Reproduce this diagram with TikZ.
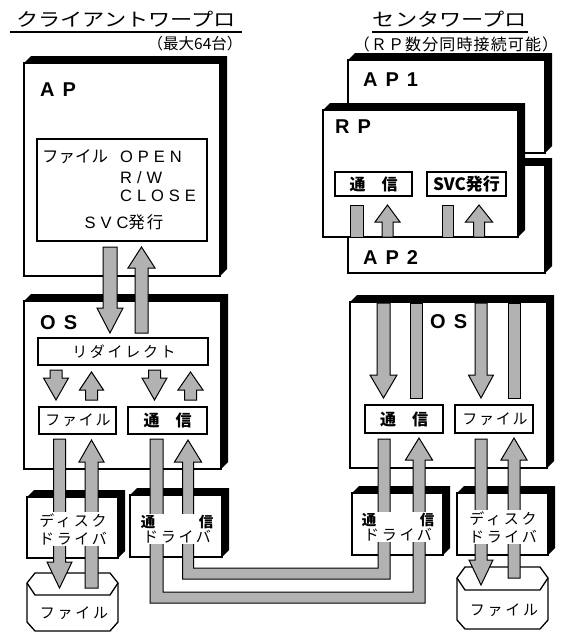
\documentclass[tikz,border=0pt]{standalone}
\usepackage{fontspec}
\setmainfont{Liberation Sans}
\newfontfamily\jp{Noto Sans CJK JP}
\newfontfamily\jpt[FakeStretch=1.2]{Noto Sans CJK JP}
\newfontfamily\jpa[LetterSpace=12]{Noto Sans CJK JP}
\newfontfamily\jpb[LetterSpace=18]{Noto Sans CJK JP}
\newfontfamily\jpc[LetterSpace=7]{Noto Sans CJK JP}
\newfontfamily\lat[LetterSpace=30]{Liberation Sans}
\newfontfamily\latb[LetterSpace=40]{Liberation Sans}
\newcommand{\shbox}[5][7]{%
  \fill (#2,#3) -- ++(#1,-#1) -- (#4+#1,#3-#1) -- (#4+#1,#5-#1) -- (#4,#5) -- (#4,#3) -- cycle;
  \filldraw[fill=white, line width=1.3pt] (#2,#3) rectangle (#4,#5);}
\newcommand{\arr}[6]{%
  \filldraw[stip] (#1-#2,#4) -- (#1+#2,#4) -- (#1+#2,#5) -- (#1+#3,#5) -- (#1,#6) -- (#1-#3,#5) -- (#1-#2,#5) -- cycle;}
\newcommand{\stbar}[4]{\filldraw[stip] (#1,#2) rectangle (#3,#4);}
\definecolor{stipgray}{gray}{0.7}
\tikzset{
  stip/.style={draw=black, line width=1pt, fill=stipgray},
  inbox/.style={draw=black, line width=1.3pt, fill=white},
  lbl/.style={inner sep=0pt, anchor=west},
  drv/.style={fill=white, inner sep=1.5pt, align=center}
}
\begin{document}
\begin{tikzpicture}[x=1pt,y=-1pt]
\useasboundingbox (0,0) rectangle (563,632);
% ---------- titles ----------
\node[font=\jpt\fontsize{18.5}{20}\selectfont] (t1) at (126,19) {クライアントワープロ};
\draw[line width=1.4pt] (10,32) -- (242,32);
\node[font=\jp\fontsize{15.5}{18}\selectfont] (t1s) at (195,44) {（最大64台）};
\node[font=\jpt\fontsize{18.5}{20}\selectfont] (t2) at (450,19) {センタワープロ};
\draw[line width=1.4pt] (372,32) -- (528,32);
\node[font=\jpc\fontsize{16}{18}\selectfont] (t2s) at (456,44) {（ＲＰ数分同時接続可能）};
% ---------- left AP ----------
\shbox{24}{63}{220}{276}
\node[lbl, font=\latb\bfseries\fontsize{20}{22}\selectfont] (ap) at (40,90) {AP};
\draw[inbox] (37,139) rectangle (207,241);
\node[lbl, font=\jp\fontsize{16.5}{18}\selectfont] (fl) at (42,157) {ファイル};
\node[lbl, font=\lat\fontsize{16.5}{18}\selectfont] (op) at (120,157) {OPEN};
\node[lbl, font=\lat\fontsize{16.5}{18}\selectfont] (rw) at (120,178) {R/W};
\node[lbl, font=\lat\fontsize{16.5}{18}\selectfont] (cl) at (120,196) {CLOSE};
\node[inner sep=0pt] (svc) at (124,222) {{\lat\fontsize{16.5}{18}\selectfont SVC}{\jpa\fontsize{16.5}{18}\selectfont 発行}};
% ---------- left OS ----------
\shbox{24}{301}{221}{469}
\node[lbl, font=\latb\bfseries\fontsize{20}{22}\selectfont] (os1) at (40,323) {OS};
\draw[inbox] (38,338) rectangle (208,365);
\node[font=\jpb\fontsize{15}{18}\selectfont] (rd) at (124,351.5) {リダイレクト};
\draw[inbox] (39,407) rectangle (116,434);
\node[font=\jpa\fontsize{15}{18}\selectfont] (f1) at (78,420.5) {ファイル};
\draw[inbox] (128,407) rectangle (207,434);
\node[font=\jp\bfseries\fontsize{16}{18}\selectfont] (c1) at (167.5,420.5) {通　信};
% ---------- right AP1 / AP2 / RP ----------
\shbox{348}{60}{545}{153}
\node[lbl, font=\latb\bfseries\fontsize{20}{22}\selectfont] (ap1) at (363,80) {AP1};
\shbox{348}{165}{545}{273}
\node[lbl, font=\latb\bfseries\fontsize{20}{22}\selectfont] (ap2) at (363,258) {AP2};
\shbox{323}{110}{518}{237}
\node[lbl, font=\latb\bfseries\fontsize{20}{22}\selectfont] (rp) at (335,127) {RP};
\draw[inbox] (335,172) rectangle (412,196);
\node[font=\jp\bfseries\fontsize{16}{18}\selectfont] (rpc) at (373.5,184) {通　信};
\draw[inbox] (427,172) rectangle (506,196);
\node[font=\jp\bfseries\fontsize{17}{18}\selectfont] (rps) at (466.5,184) {SVC発行};
% ---------- right OS ----------
\shbox{350}{302}{547}{468}
\node[lbl, font=\latb\bfseries\fontsize{20}{22}\selectfont] (os2) at (430,322) {OS};
\draw[inbox] (365,405) rectangle (443,433);
\node[font=\jp\bfseries\fontsize{16}{18}\selectfont] (c2) at (404,419) {通　信};
\draw[inbox] (455,405) rectangle (533,433);
\node[font=\jpa\fontsize{15}{18}\selectfont] (f2) at (495,419) {ファイル};
% ---------- drivers ----------
\shbox{27}{497}{118}{558}
\shbox{130}{495}{222}{557}
\shbox{352}{493}{443}{555}
\shbox{457}{493}{548}{555}
% ---------- files ----------
\filldraw[fill=white, line width=1.3pt] (35,573) -- (110,573) -- (118,583) -- (118,622) -- (110,631) -- (35,631) -- (27,622) -- (27,583) -- cycle;
\draw[line width=1.3pt] (27,583) -- (35,595) -- (110,595) -- (118,583);
\filldraw[fill=white, line width=1.3pt] (465,567) -- (540,567) -- (548,578) -- (548,620) -- (540,629) -- (465,629) -- (457,620) -- (457,578) -- cycle;
\draw[line width=1.3pt] (457,578) -- (465,590) -- (540,590) -- (548,578);
% ---------- arrows: left ----------
\arr{110}{7}{13}{247}{308}{333}
\arr{141.5}{6.5}{13.5}{333}{268}{247}
\arr{56}{6}{12.5}{370}{378}{400}
\arr{91.5}{6}{12}{400}{390}{372}
\arr{154.5}{6}{12.5}{370}{378}{400}
\arr{190.5}{6}{12.5}{400}{390}{372}
\arr{59.5}{6}{12.5}{439}{562}{588}
\arr{91.5}{6.5}{12.5}{588}{462}{440}
% ---------- pipes ----------
\filldraw[stip] (174.5,462) -- (188,440) -- (201.5,462) -- (193.5,462) -- (193.5,568) -- (378,568) -- (378,439) -- (390,439) -- (390,579) -- (182.5,579) -- (182.5,462) -- cycle;
\filldraw[stip] (150,439) -- (163,439) -- (163,592) -- (413,592) -- (413,460) -- (405.5,460) -- (419,438) -- (432.5,460) -- (425,460) -- (425,603) -- (150,603) -- cycle;
% ---------- arrows: right ----------
\arr{481}{6}{12}{439}{560}{585}
\arr{514}{6}{13}{578}{460}{438}
\arr{383.5}{6.5}{13.5}{303}{375}{398}
\stbar{410}{303}{422}{398}
\arr{481}{6}{12.5}{303}{375}{398}
\stbar{508}{303}{520}{398}
\stbar{350}{205}{363}{237}
\arr{387.5}{5.5}{12.5}{237}{222}{205}
\stbar{442}{205}{453}{237}
\arr{479}{5.5}{13.5}{237}{222}{205}
% ---------- driver and file texts ----------
\node[drv, font=\jpb\fontsize{15}{18}\selectfont] (dd1) at (73,529) {ディスク\\ドライバ};
\node[drv] (cd1) at (177,529) {{\jp\bfseries\fontsize{14.5}{18}\selectfont 通　　　信}\\{\jpb\fontsize{15}{18}\selectfont ドライバ}};
\node[drv] (cd2) at (398,527) {{\jp\bfseries\fontsize{14.5}{18}\selectfont 通　　　信}\\{\jpb\fontsize{15}{18}\selectfont ドライバ}};
\node[drv, font=\jpb\fontsize{15}{18}\selectfont] (dd2) at (503,527) {ディスク\\ドライバ};
\node[font=\jpb\fontsize{15}{18}\selectfont, inner sep=0pt] (fi1) at (74,613) {ファイル};
\node[font=\jpb\fontsize{15}{18}\selectfont, inner sep=0pt] (fi2) at (504,610) {ファイル};
\end{tikzpicture}
\end{document}
